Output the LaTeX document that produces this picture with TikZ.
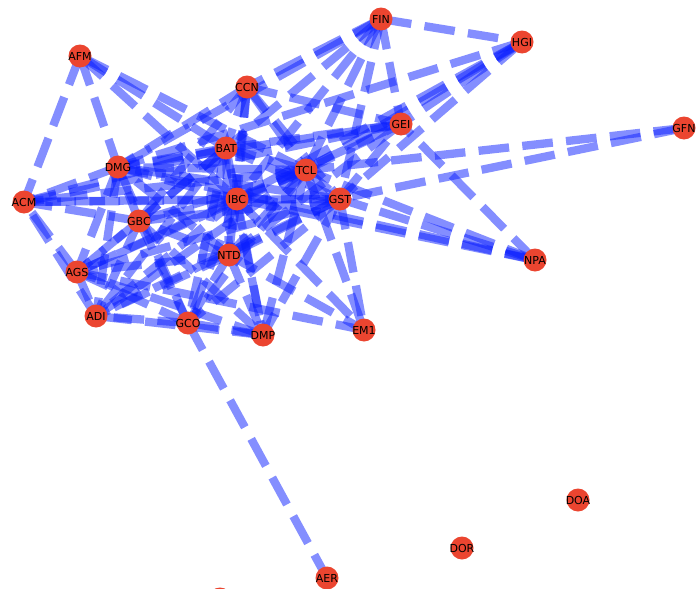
\documentclass[tikz,border=0pt]{standalone}
\usepackage{fontspec}
\newfontfamily\nodefont{DejaVu Sans}
\usetikzlibrary{backgrounds}
\definecolor{nodered}{RGB}{235,69,48}
\definecolor{edgeblue}{RGB}{10,30,255}
\tikzset{
  vtx/.style={circle, fill=nodered, minimum size=23pt, inner sep=0pt},
  lbl/.style={inner sep=0pt, text=black, font=\nodefont\fontsize{11}{12}\selectfont},
  edge/.style={draw=edgeblue, draw opacity=0.5, line width=8.3pt, dash pattern=on 30.7pt off 13.3pt},
}
\newcommand{\vtxnode}[4]{\node[vtx] (#1) at (#2,#3) {}; \node[lbl] (#1-t) at (#1) {#4};}
\begin{document}
\begin{tikzpicture}[x=1pt,y=-1pt]
\useasboundingbox (0,0) rectangle (697,589);
\clip (0,0) rectangle (697,589);
\vtxnode{FIN}{381}{19}{FIN}
\vtxnode{HGI}{522}{42}{HGI}
\vtxnode{AFM}{80}{56}{AFM}
\vtxnode{CCN}{247}{87}{CCN}
\vtxnode{GEI}{401}{124}{GEI}
\vtxnode{GFN}{684}{128}{GFN}
\vtxnode{BAT}{226}{148}{BAT}
\vtxnode{DMG}{118}{167}{DMG}
\vtxnode{TCL}{306}{170}{TCL}
\vtxnode{ACM}{24}{202}{ACM}
\vtxnode{IBC}{237}{199}{IBC}
\vtxnode{GST}{340}{199}{GST}
\vtxnode{GBC}{139}{221}{GBC}
\vtxnode{NPA}{535}{260}{NPA}
\vtxnode{NTD}{229}{255}{NTD}
\vtxnode{AGS}{77}{272}{AGS}
\vtxnode{ADI}{96}{316}{ADI}
\vtxnode{GCO}{188}{323}{GCO}
\vtxnode{DMP}{263}{335}{DMP}
\vtxnode{EM1}{364}{330}{EM1}
\vtxnode{DOA}{578}{500}{DOA}
\vtxnode{DOR}{462}{548}{DOR}
\vtxnode{AER}{327}{578}{AER}
\node[vtx] (XNODE) at (220,599) {};
\begin{pgfonlayer}{background}
\foreach \a/\b in {
  FIN/HGI, FIN/GEI, FIN/CCN, FIN/DMG, FIN/BAT, FIN/IBC, FIN/TCL, FIN/GST,
  HGI/DMG, HGI/GEI, HGI/TCL, HGI/GST, HGI/IBC,
  GFN/TCL, GFN/GST,
  NPA/GEI, NPA/GST, NPA/TCL, NPA/IBC, NPA/DMG,
  AFM/ACM, AFM/DMG, AFM/IBC, AFM/TCL, AFM/BAT,
  CCN/GEI, CCN/TCL, CCN/GST, CCN/IBC, CCN/BAT, CCN/DMG, CCN/GBC, CCN/NTD,
  GCO/AER,
  IBC/BAT, IBC/TCL, IBC/GST, IBC/NTD, IBC/GBC, IBC/GCO, IBC/DMP, IBC/GEI, IBC/DMG, IBC/AGS, IBC/ADI, IBC/ACM, IBC/EM1,
  BAT/TCL, BAT/GST, BAT/NTD, BAT/GBC, BAT/GCO, BAT/DMP, BAT/GEI, BAT/DMG, BAT/AGS, BAT/ADI, BAT/ACM,
  TCL/GST, TCL/NTD, TCL/GBC, TCL/GCO, TCL/DMP, TCL/GEI, TCL/DMG, TCL/AGS, TCL/ADI, TCL/ACM, TCL/EM1,
  GST/NTD, GST/GBC, GST/GCO, GST/DMP, GST/GEI, GST/DMG, GST/AGS, GST/ADI, GST/ACM, GST/EM1,
  NTD/GBC, NTD/GCO, NTD/DMP, NTD/GEI, NTD/DMG, NTD/AGS, NTD/ADI, NTD/EM1,
  GBC/GCO, GBC/DMP, GBC/DMG, GBC/AGS, GBC/ADI, GBC/ACM,
  GCO/DMP, GCO/DMG, GCO/AGS, GCO/ADI,
  DMP/AGS, DMP/ADI,
  GEI/DMG, GEI/ACM,
  DMG/AGS, DMG/ADI, DMG/ACM,
  AGS/ADI, AGS/ACM, AGS/EM1,
  ADI/ACM}
  \draw[edge] (\a.center) -- (\b.center);
\end{pgfonlayer}
\end{tikzpicture}
\end{document}
